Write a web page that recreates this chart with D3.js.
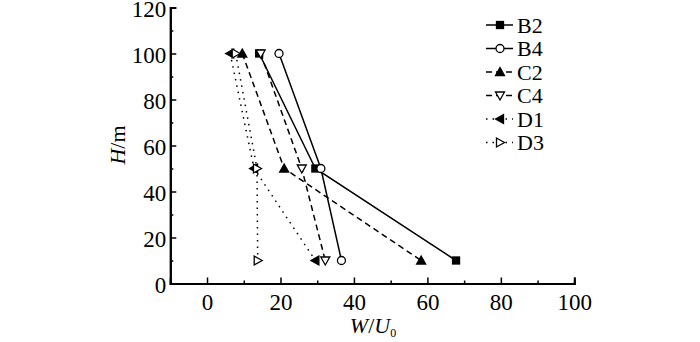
<!DOCTYPE html>
<html><head><meta charset="utf-8">
<script src="https://cdn.jsdelivr.net/npm/d3@7"></script>
<style>body{margin:0;background:#fff}svg{display:block}</style>
</head><body><svg id="c" width="700" height="342"></svg>
<script>
const heights = [100, 50, 10];
const seriesNames = ["B2", "B4", "C2", "C4", "D1", "D3"];
const B2 = [14.2, 29.5, 67.8];
const B4 = [19.6, 31.0, 36.6];
const C2 = [9.6, 21.0, 58.3];
const C4 = [14.6, 25.8, 32.2];
const D1 = [6.3, 12.8, 29.5];
const D3 = [7.8, 13.6, 13.8];
const xTicks = [0, 20, 40, 60, 80, 100];
const yTicks = [0, 20, 40, 60, 80, 100, 120];

const FONT = "Liberation Serif";
const styles = {
  B2: {dash: null, sym: "square", fill: "#000"},
  B4: {dash: null, sym: "circle", fill: "#fff"},
  C2: {dash: "6,4", sym: "up", fill: "#000"},
  C4: {dash: "6,4", sym: "down", fill: "#fff"},
  D1: {dash: "1.5,5", sym: "left", fill: "#000"},
  D3: {dash: "1.5,5", sym: "right", fill: "#fff"}
};
const values = {B2, B4, C2, C4, D1, D3};

const svg = d3.select("#c");
const x = d3.scaleLinear().domain([-10, 100]).range([170.3, 574.3]);
const y = d3.scaleLinear().domain([0, 120]).range([283.5, 7.5]);

function marker(g, sym, fill) {
  let el;
  if (sym === "square") el = g.append("rect").attr("x", -3.5).attr("y", -3.5).attr("width", 7).attr("height", 7);
  else if (sym === "circle") el = g.append("circle").attr("r", 4);
  else {
    const pts = {up: [[0,-4.5],[4.5,3.5],[-4.5,3.5]], down: [[0,4.5],[4.5,-3.5],[-4.5,-3.5]],
                 left: [[-4.5,0],[3.5,-4.5],[3.5,4.5]], right: [[4.5,0],[-3.5,-4.5],[-3.5,4.5]]}[sym];
    el = g.append("polygon").attr("points", pts.map(p => p.join(",")).join(" "));
  }
  el.attr("fill", fill).attr("stroke", "#000").attr("stroke-width", 1.3);
}

const line = d3.line().x(d => x(d[0])).y(d => y(d[1]));
seriesNames.forEach(n => {
  const data = values[n].map((v, i) => [v, heights[i]]);
  svg.append("path").attr("d", line(data)).attr("fill", "none").attr("stroke", "#000")
    .attr("stroke-width", 1.5).attr("stroke-dasharray", styles[n].dash);
});
seriesNames.forEach(n => {
  values[n].forEach((v, i) => {
    const g = svg.append("g").attr("transform", `translate(${x(v)},${y(heights[i])})`);
    marker(g, styles[n].sym, styles[n].fill);
  });
});

const xAxis = svg.append("g").attr("transform", `translate(0,${y(0)})`);
xAxis.call(d3.axisBottom(x).tickValues(xTicks).tickSize(-6).tickPadding(10.5).tickFormat(d3.format("d")));
xAxis.append("g").call(d3.axisBottom(x).tickValues([-10,10,30,50,70,90]).tickSize(-3).tickFormat(""));
const yAxis = svg.append("g").attr("transform", `translate(${x(-10)},0)`);
yAxis.call(d3.axisLeft(y).tickValues(yTicks).tickSize(-6).tickPadding(4).tickFormat(d3.format("d")));
yAxis.append("g").call(d3.axisLeft(y).tickValues([10,30,50,70,90,110]).tickSize(-3).tickFormat(""));
svg.selectAll(".domain").attr("stroke-width", 2);
svg.selectAll(".tick line").attr("stroke-width", 1.5);
svg.selectAll(".tick text").attr("font-family", FONT).attr("font-size", 23).attr("fill", "#000");
xAxis.selectAll(".tick text").attr("dy", "0.71em");
yAxis.selectAll(".tick text").attr("dy", "0.4em");

svg.append("text").attr("transform", "translate(125,145) rotate(-90)").attr("text-anchor", "middle")
  .attr("font-family", FONT).attr("font-size", 22).html('<tspan font-style="italic">H</tspan>/m');
svg.append("text").attr("x", 373).attr("y", 333).attr("text-anchor", "middle")
  .attr("font-family", FONT).attr("font-size", 22)
  .html('<tspan font-style="italic">W</tspan>/<tspan font-style="italic">U</tspan><tspan font-size="12" dy="4">0</tspan>');

seriesNames.forEach((n, i) => {
  const yy = 25 + i * 23.5;
  const g = svg.append("g").attr("transform", `translate(0,${yy})`);
  g.append("line").attr("x1", 486).attr("x2", 513).attr("y1", 0).attr("y2", 0)
    .attr("stroke", "#000").attr("stroke-width", 1.5).attr("stroke-dasharray", styles[n].dash);
  const m = g.append("g").attr("transform", "translate(500,0)");
  marker(m, styles[n].sym, styles[n].fill);
  g.append("text").attr("x", 517).attr("y", 0).attr("dy", "0.35em")
    .attr("font-family", FONT).attr("font-size", 22).text(n);
});
</script></body></html>
